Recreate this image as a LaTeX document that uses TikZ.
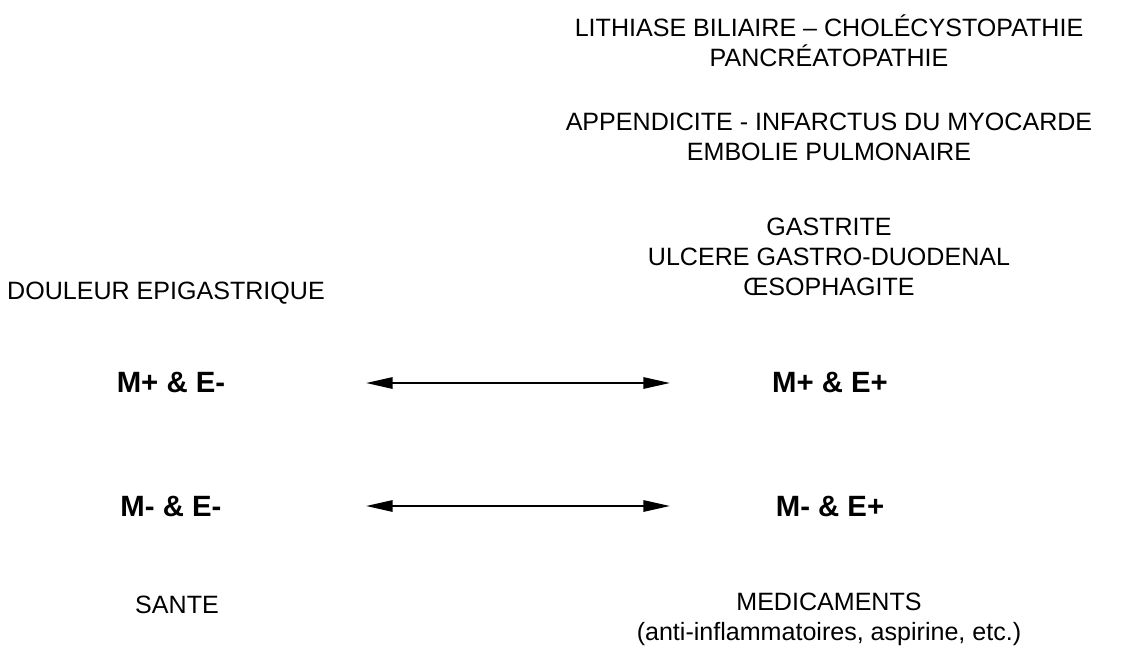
\documentclass[tikz,border=0pt]{standalone}
\usepackage{fontspec}
\setmainfont{Liberation Sans}
\usetikzlibrary{arrows.meta}
\tikzset{%
  >={Triangle[length=20pt,width=8.5pt]},
  inner sep=0pt,%
  outer sep=2pt,%
  diag label/.style={align=center,font=\fontsize{18.8}{22.3}\selectfont},%
  state label/.style={font=\fontsize{22}{26}\selectfont\bfseries},%
  state arrow/.style={<->,line width=1.5pt}%
}

\begin{document}
\begin{tikzpicture}[x=0.75pt,y=-0.75pt]
	%% frame
	\useasboundingbox (0,0) rectangle (1133,650);

	%% diseases on the right
	\node[diag label] (litho) at (829,40.5) {LITHIASE BILIAIRE -- CHOLÉCYSTOPATHIE\\PANCRÉATOPATHIE};
	\node[diag label] (appendix) at (829,137) {APPENDICITE - INFARCTUS DU MYOCARDE\\EMBOLIE PULMONAIRE};
	\node[diag label] (gastro) at (829,257) {GASTRITE\\ULCERE GASTRO-DUODENAL\\ŒSOPHAGITE};
	\node[diag label] (pain) at (166,293) {DOULEUR EPIGASTRIQUE};

	%% the four states
	\node[state label] (mpem) at (171,382) {M+ \& E-};
	\node[state label] (mpep) at (830,382) {M+ \& E+};
	\node[state label] (mmem) at (171,506) {M- \& E-};
	\node[state label] (mmep) at (830,506) {M- \& E+};

	\node[diag label] (health) at (177,605) {SANTE};
	\node[diag label] (drugs) at (829,619.5) {MEDICAMENTS\\(anti-inflammatoires, aspirine, etc.)};

	%% arrows
	\coordinate (topL) at (366,383);
	\coordinate (topR) at (670,383);
	\coordinate (botL) at (366,506);
	\coordinate (botR) at (670,506);
	\draw[state arrow] (topL) -- (topR);
	\draw[state arrow] (botL) -- (botR);
\end{tikzpicture}
\end{document}
